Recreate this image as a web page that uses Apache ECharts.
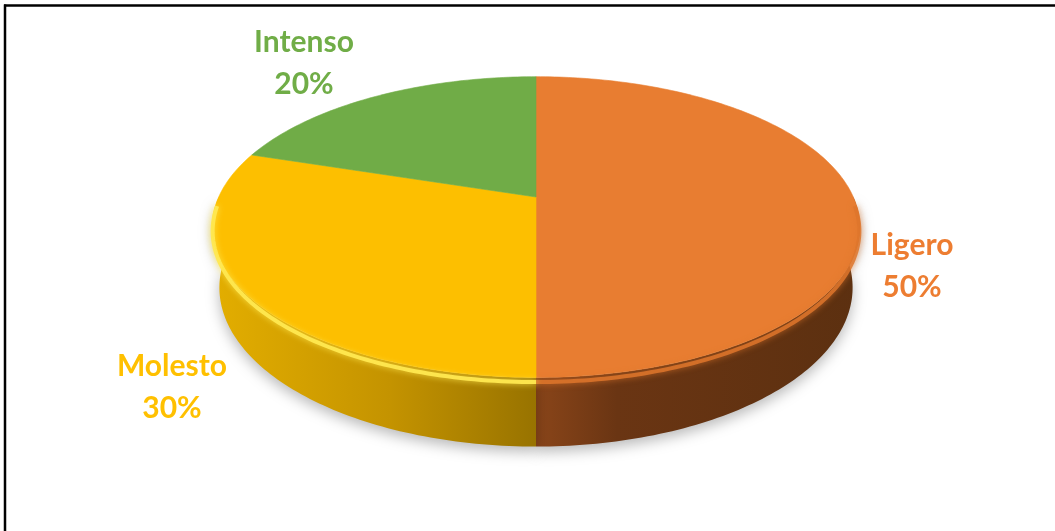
<!DOCTYPE html>
<html>
<head>
<meta charset="utf-8">
<script src="https://cdn.jsdelivr.net/npm/echarts@6/dist/echarts.min.js"></script>
<style>
  html, body { margin: 0; padding: 0; background: #ffffff; }
  #chart { width: 1055px; height: 531px; }
</style>
</head>
<body>
<div id="chart"></div>
<script>
// Pie data: category names and their shares (percent)
const categories = ['Ligero', 'Molesto', 'Intenso'];
const shares = [50, 30, 20];

// Colours of each slice: top face, wall gradient stops, rim bevel, label
const topColors = ['#E87D31', '#FDBF00', '#70AC47'];
const labelColors = ['#ED7D31', '#FFC000', '#70AD47'];
const wallStops = [
  [[0, '#8A4519'], [0.25, '#6A3513'], [1, '#5C3010']],
  [[0, '#E3AE00'], [0.55, '#C49300'], [1, '#987300']],
  [[0, '#5A8A38'], [1, '#3E6027']]
];
const edgeColors = ['rgba(222,118,44,0.85)', 'rgba(255,232,80,0.95)', 'rgba(140,200,100,0.9)'];

// Label anchors (text centre) in pixels
const labelAnchors = [[912, 266], [172, 387], [304, 63]];

// Perspective camera for the tilted disc
const CX = 536, CY = 197, F = 1412, D = 4.45;
const TILT = Math.asin(0.455);
const SIN_T = Math.sin(TILT), COS_T = Math.cos(TILT);
const THICK = 0.215;

// u: right, v: toward viewer, y: up (0 = top face, -THICK = bottom)
function project(u, v, y) {
  const yc = v * SIN_T - y * COS_T;
  const zc = D - v * COS_T - y * SIN_T;
  return [CX + F * u / zc, CY + F * yc / zc];
}
// a: degrees clockwise from 12 o'clock
function rimPoint(a, y) {
  const r = a * Math.PI / 180;
  return project(Math.sin(r), -Math.cos(r), y);
}
function arc(a0, a1, y) {
  const pts = [];
  const n = Math.max(2, Math.ceil(Math.abs(a1 - a0)));
  for (let i = 0; i <= n; i++) pts.push(rimPoint(a0 + (a1 - a0) * i / n, y));
  return pts;
}

// Slice angles from the shares
const total = shares.reduce((s, v) => s + v, 0);
const sliceAngles = [];
{
  let acc = 0;
  shares.forEach(v => {
    const a0 = acc / total * 360;
    acc += v;
    sliceAngles.push([a0, acc / total * 360]);
  });
}

const seriesData = categories.map((name, i) => ({ name: name, value: shares[i] }));

function renderWall(params, api) {
  const i = params.dataIndex;
  const [a0, a1] = sliceAngles[i];
  const s = Math.max(a0, 90), e = Math.min(a1, 270);
  if (e <= s) return { type: 'group', children: [] };
  const top = arc(s, e, 0);
  const bottom = arc(s, e, -THICK).reverse();
  const xs = top.concat(bottom).map(p => p[0]);
  const x0 = Math.min.apply(null, xs), x1 = Math.max.apply(null, xs);
  const grad = new echarts.graphic.LinearGradient(x0, 0, x1, 0,
    wallStops[i].map(st => ({ offset: st[0], color: st[1] })), true);
  return {
    type: 'polygon',
    shape: { points: top.concat(bottom) },
    style: {
      fill: grad,
      shadowBlur: 14,
      shadowOffsetY: 5,
      shadowColor: 'rgba(0,0,0,0.28)'
    }
  };
}

function renderTop(params, api) {
  const i = params.dataIndex;
  const [a0, a1] = sliceAngles[i];
  const pts = [project(0, 0, 0)].concat(arc(a0, a1, 0));
  const children = [{
    type: 'polygon',
    shape: { points: pts },
    style: { fill: topColors[i], stroke: topColors[i], lineWidth: 0.6 }
  }];
  // soft bevel along the front rim
  const s = Math.max(a0, 92), e = Math.min(a1, 268);
  if (e > s) {
    children.push({
      type: 'polyline',
      shape: { points: arc(s, e, -0.014) },
      style: {
        stroke: edgeColors[i], lineWidth: 4, fill: null,
        shadowBlur: 6, shadowColor: edgeColors[i]
      }
    });
  }
  // label: name and percentage
  const pct = Math.round(api.value(0) / total * 100);
  children.push({
    type: 'text',
    x: labelAnchors[i][0],
    y: labelAnchors[i][1],
    style: {
      text: categories[i] + '\n' + pct + '%',
      fill: labelColors[i],
      font: 'bold 30px Lato, "Open Sans", sans-serif',
      lineHeight: 42,
      align: 'center',
      verticalAlign: 'middle'
    }
  });
  return { type: 'group', children: children };
}

const chart = echarts.init(document.getElementById('chart'), null, { renderer: 'canvas' });
chart.setOption({
  backgroundColor: '#ffffff',
  animation: false,
  graphic: [
    { type: 'line', shape: { x1: 4, y1: 5.5, x2: 1055, y2: 5.5 }, style: { stroke: '#000', lineWidth: 2.5 }, z: 100 },
    { type: 'line', shape: { x1: 5, y1: 4.5, x2: 5, y2: 531 }, style: { stroke: '#000', lineWidth: 2.5 }, z: 100 }
  ],
  series: [
    { type: 'custom', name: 'wall', coordinateSystem: 'none', data: seriesData, renderItem: renderWall, z: 1, silent: true },
    { type: 'custom', name: 'top', coordinateSystem: 'none', data: seriesData, renderItem: renderTop, z: 2, silent: true }
  ]
});
</script>
</body>
</html>
